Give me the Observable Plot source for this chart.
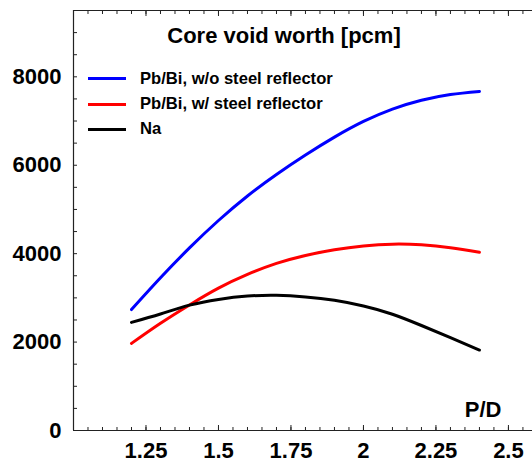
<!DOCTYPE html>
<html>
<head>
<meta charset="utf-8">
<script src="https://cdn.jsdelivr.net/npm/d3@7"></script>
<script src="https://cdn.jsdelivr.net/npm/@observablehq/plot@0.6"></script>
<style>
  html, body { margin: 0; padding: 0; background: #fff; }
  #wrap { position: relative; width: 532px; height: 462px; font-family: "Liberation Sans", Arial, sans-serif; font-weight: bold; color: #000; }
  #title { position: absolute; left: 0; width: 568px; top: 23px; text-align: center; font-size: 22px; }
  #legend { position: absolute; left: 88px; top: 66px; font-size: 16.6px; }
  .row { display: flex; align-items: center; height: 25.4px; }
  .sw { width: 38px; height: 3px; margin-right: 14px; }
</style>
</head>
<body>
<div id="wrap">
  <div id="chart"></div>
  <div id="title"></div>
  <div id="legend"></div>
</div>
<script>
// P/D pitch-to-diameter ratio sampled every 0.1
const pd = [1.2, 1.3, 1.4, 1.5, 1.6, 1.7, 1.8, 1.9, 2.0, 2.1, 2.2, 2.3, 2.4];

// Core void worth [pcm] per coolant / reflector configuration
const pbbiNoSteel = [2736, 3455, 4130, 4750, 5305, 5790, 6230, 6635, 6990, 7270, 7470, 7600, 7670];
const pbbiSteel   = [1970, 2425, 2840, 3220, 3530, 3780, 3960, 4090, 4175, 4215, 4200, 4135, 4030];
const sodium      = [2445, 2635, 2835, 2965, 3040, 3058, 3022, 2945, 2815, 2630, 2375, 2100, 1820];

const seriesNames  = ["Pb/Bi, w/o steel reflector", "Pb/Bi, w/ steel reflector", "Na"];
const seriesColors = ["#0000ff", "#ff0000", "#000000"];

const xTickValues = [1.25, 1.5, 1.75, 2, 2.25, 2.5];
const xTickLabels = ["1.25", "1.5", "1.75", "2", "2.25", "2.5"];
const yTickValues = [0, 2000, 4000, 6000, 8000];
const yTickLabels = ["0", "2000", "4000", "6000", "8000"];

const titleText = "Core void worth [pcm]";
const xLabel = "P/D";

const rows = [];
[pbbiNoSteel, pbbiSteel, sodium].forEach((vals, s) =>
  vals.forEach((v, i) => rows.push({pd: pd[i], worth: v, series: seriesNames[s]}))
);

const xMinor = d3.range(1.05, 2.58, 0.05).map(v => +v.toFixed(2));
const xMajor = xMinor.filter(v => xTickValues.includes(v));
const yMinor = d3.range(500, 9500, 500);

const chart = Plot.plot({
  width: 532,
  height: 462,
  marginLeft: 73,
  marginRight: 0,
  marginTop: 10,
  marginBottom: 32,
  style: {fontFamily: "'Liberation Sans', Arial, sans-serif", fontWeight: "bold", color: "#000", background: "#fff"},
  x: {domain: [1, 2.583], label: null},
  y: {domain: [0, 9500], label: null},
  color: {domain: seriesNames, range: seriesColors},
  marks: [
    // frame lines: left, bottom, top
    Plot.ruleX([1], {stroke: "#222", strokeWidth: 1.2}),
    Plot.ruleY([0, 9500], {stroke: "#222", strokeWidth: 1.2}),
    // inward ticks
    Plot.axisX(xMinor, {anchor: "bottom", tickSize: -3, text: null, stroke: "#222"}),
    Plot.axisX(xMajor, {anchor: "bottom", tickSize: -5, text: null, stroke: "#222"}),
    Plot.axisX(xMinor, {anchor: "top", tickSize: -3, text: null, stroke: "#222"}),
    Plot.axisX(xMajor, {anchor: "top", tickSize: -5, text: null, stroke: "#222"}),
    Plot.axisY(yMinor, {anchor: "left", tickSize: -4, text: null, stroke: "#222"}),
    // tick labels
    Plot.axisX(xTickValues, {anchor: "bottom", tickSize: 0, tickPadding: 12, fontSize: 22, tickFormat: (d, i) => xTickLabels[i]}),
    Plot.axisY(yTickValues, {anchor: "left", tickSize: 0, tickPadding: 12, fontSize: 22, tickFormat: (d, i) => yTickLabels[i]}),
    // curves
    Plot.line(rows, {x: "pd", y: "worth", stroke: "series", z: "series", strokeWidth: 3, curve: "natural"}),
    // axis name
    Plot.text([xLabel], {frameAnchor: "bottom-right", dx: -31, dy: -14, fontSize: 22, textAnchor: "end", lineAnchor: "bottom"})
  ]
});
document.getElementById("chart").appendChild(chart);

document.getElementById("title").textContent = titleText;
const legend = document.getElementById("legend");
seriesNames.forEach((name, i) => {
  const row = document.createElement("div");
  row.className = "row";
  const sw = document.createElement("div");
  sw.className = "sw";
  sw.style.background = seriesColors[i];
  const label = document.createElement("span");
  label.textContent = name;
  row.append(sw, label);
  legend.appendChild(row);
});
</script>
</body>
</html>
